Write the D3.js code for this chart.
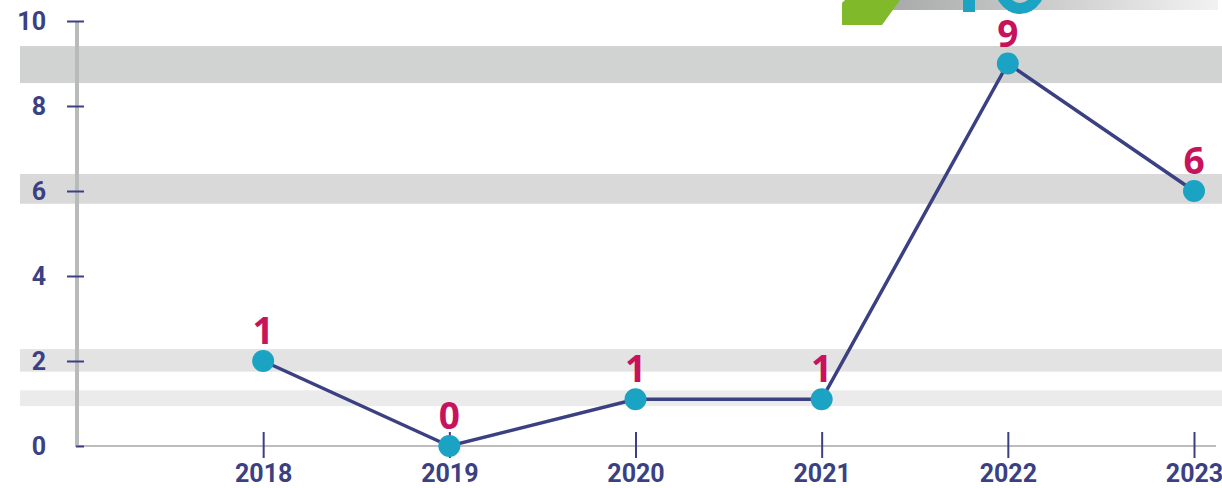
<!DOCTYPE html>
<html>
<head>
<meta charset="utf-8">
<script src="https://cdn.jsdelivr.net/npm/d3@7"></script>
<style>
  body { margin: 0; background: #fff; }
  svg { display: block; }
</style>
</head>
<body>
<div id="chart"></div>
<script>
// chart data
const years = [2018, 2019, 2020, 2021, 2022, 2023]
const values = [2, 0, 1.1, 1.1, 9, 6]
const valueLabels = ["1", "0", "1", "1", "9", "6"]
const yTicks = [0, 2, 4, 6, 8, 10]
// background stripes, in value units [from, to]
const bandRanges = [[8.54, 9.41], [5.7, 6.4], [1.75, 2.28], [0.94, 1.31]]
const bandColors = ["#d1d3d2", "#d9d9d9", "#e3e3e3", "#ebebeb"]

const width = 1222, height = 488
const navy = "#3b4083", teal = "#1aa3c3", magenta = "#c8125c"

const svg = d3.select("#chart")
    .append("svg")
    .attr("width", width)
    .attr("height", height)

const x = d3.scaleLinear()
    .domain([2017, 2023])
    .range([77, 1194])

const y = d3.scaleLinear()
    .domain([0, 10])
    .range([446, 21])

// stripes
svg.append("g")
    .selectAll("rect")
    .data(bandRanges)
    .join("rect")
    .attr("x", 20)
    .attr("width", width - 20)
    .attr("y", d => y(d[1]))
    .attr("height", d => y(d[0]) - y(d[1]))
    .attr("fill", (d, i) => bandColors[i])

// decoration top right
const defs = svg.append("defs")
const grad = defs.append("linearGradient").attr("id", "grayfade")
grad.append("stop").attr("offset", "0%").attr("stop-color", "#a7a8a8")
grad.append("stop").attr("offset", "100%").attr("stop-color", "#f2f2f2")
svg.append("rect")
    .attr("x", 885).attr("y", 0)
    .attr("width", 333).attr("height", 10)
    .attr("fill", "url(#grayfade)")
svg.append("path")
    .attr("d", "M842,3 L845,0 L900,0 L882,25 L842,25 Z")
    .attr("fill", "#80b929")
svg.append("rect")
    .attr("x", 963).attr("y", -20)
    .attr("width", 12).attr("height", 32)
    .attr("fill", teal)
svg.append("ellipse")
    .attr("cx", 1020).attr("cy", -21.5)
    .attr("rx", 22).attr("ry", 30)
    .attr("fill", "none")
    .attr("stroke", teal)
    .attr("stroke-width", 11)

// y axis
svg.append("line")
    .attr("x1", 77).attr("x2", 77)
    .attr("y1", y(10)).attr("y2", y(0) + 1)
    .attr("stroke", "#b9bbba")
    .attr("stroke-width", 4)

svg.append("line")
    .attr("x1", 77).attr("x2", 1216)
    .attr("y1", y(0)).attr("y2", y(0))
    .attr("stroke", "#bdbdbd")
    .attr("stroke-width", 2)

const yAxis = svg.append("g")
    .attr("transform", "translate(84,0)")
    .call(d3.axisLeft(y).tickValues(yTicks).tickSize(17).tickPadding(21).tickFormat(d3.format("d")))
yAxis.select(".domain").remove()
yAxis.selectAll(".tick line")
    .attr("stroke", navy)
    .attr("stroke-width", 2)
    .attr("x2", d => d === 0 ? -8 : -17)
yAxis.selectAll(".tick text")
    .attr("fill", navy)
    .style("font-family", "Roboto")
    .style("font-weight", 700)
    .style("font-size", "25px")

// x axis
const xAxis = svg.append("g")
    .attr("transform", `translate(0,432)`)
    .call(d3.axisBottom(x).tickValues(years).tickSize(26).tickPadding(6).tickFormat(d3.format("d")))
xAxis.select(".domain").remove()
xAxis.selectAll(".tick line")
    .attr("stroke", navy)
    .attr("stroke-width", 2)
xAxis.selectAll(".tick text")
    .attr("fill", navy)
    .style("font-family", "Roboto")
    .style("font-weight", 700)
    .style("font-size", "25px")

// line and points
const line = d3.line()
    .x((d, i) => x(years[i]))
    .y(d => y(d))

svg.append("path")
    .datum(values)
    .attr("d", line)
    .attr("fill", "none")
    .attr("stroke", navy)
    .attr("stroke-width", 3.5)

svg.append("g")
    .selectAll("circle")
    .data(values)
    .join("circle")
    .attr("cx", (d, i) => x(years[i]))
    .attr("cy", d => y(d))
    .attr("r", 11)
    .attr("fill", teal)

svg.append("g")
    .selectAll("text")
    .data(values)
    .join("text")
    .attr("x", (d, i) => x(years[i]))
    .attr("y", d => y(d) - 17)
    .attr("text-anchor", "middle")
    .attr("fill", magenta)
    .style("font-family", "Open Sans")
    .style("font-weight", 700)
    .style("font-size", "37px")
    .text((d, i) => valueLabels[i])
</script>
</body>
</html>
